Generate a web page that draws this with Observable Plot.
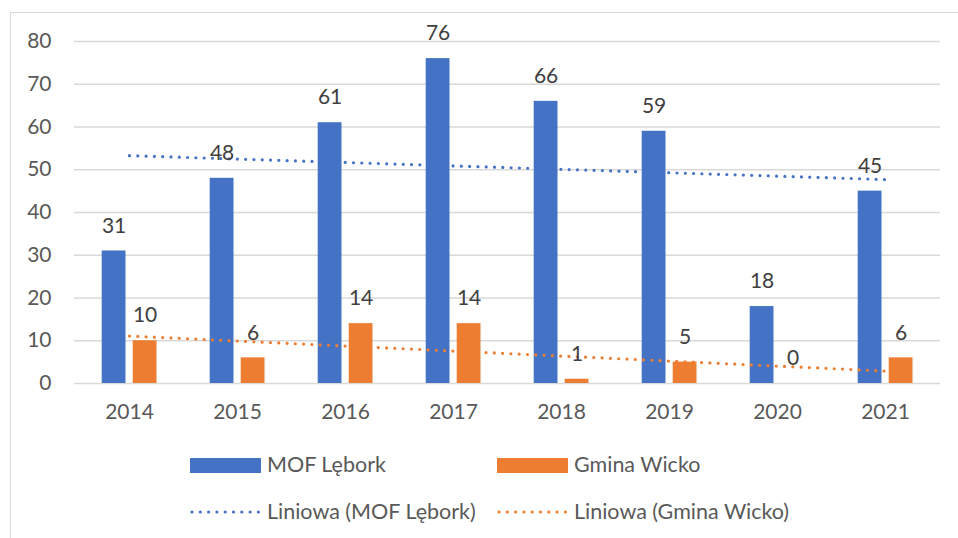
<!DOCTYPE html>
<html>
<head>
<meta charset="utf-8">
<script src="https://cdn.jsdelivr.net/npm/d3@7"></script>
<script src="https://cdn.jsdelivr.net/npm/@observablehq/plot@0.6"></script>
<style>
  html, body { margin: 0; padding: 0; background: #fff; }
  #wrap { position: relative; width: 958px; height: 538px; overflow: hidden; font-family: Lato, "Open Sans", sans-serif; }
  #frame { position: absolute; left: 10px; top: 12px; width: 1000px; height: 600px; border: 1px solid #d9d9d9; box-sizing: border-box; pointer-events: none; }
  #chart { position: absolute; left: 0; top: 0; }
  .leg { position: absolute; font-size: 21.5px; color: #595959; line-height: 1; white-space: nowrap; }
  .sw { position: absolute; }
</style>
</head>
<body>
<div id="wrap">
  <div id="frame"></div>
  <div id="chart"></div>
  <div id="legend"></div>
</div>
<script>
const years = ["2014", "2015", "2016", "2017", "2018", "2019", "2020", "2021"];
const mofLebork = [31, 48, 61, 76, 66, 59, 18, 45];
const gminaWicko = [10, 6, 14, 14, 1, 5, 0, 6];
const seriesNames = ["MOF Lębork", "Gmina Wicko", "Liniowa (MOF Lębork)", "Liniowa (Gmina Wicko)"];
const trendYears = ["2014", "2021"];
const trendMOF = [53.3, 47.7];
const trendWicko = [11.1, 2.9];
const yTicks = [0, 10, 20, 30, 40, 50, 60, 70, 80];

const blue = "#4472C4", orange = "#ED7D31";

const mofData = years.map((y, i) => ({year: y, value: mofLebork[i]}));
const wickoData = years.map((y, i) => ({year: y, value: gminaWicko[i]}));
const tMOF = trendYears.map((y, i) => ({year: y, value: trendMOF[i]}));
const tWicko = trendYears.map((y, i) => ({year: y, value: trendWicko[i]}));

const chart = Plot.plot({
  width: 958,
  height: 440,
  marginLeft: 74,
  marginRight: 18,
  marginTop: 41,
  marginBottom: 57,
  style: {fontFamily: "Lato, 'Open Sans', sans-serif", fontSize: "21px", color: "#595959", background: "transparent"},
  x: {type: "band", domain: years, padding: 0, label: null},
  y: {domain: [0, 80], label: null},
  marks: [
    Plot.ruleY(yTicks, {stroke: "#d9d9d9", strokeWidth: 1.3}),
    Plot.axisY(yTicks, {tickSize: 0, tickPadding: 23, fontSize: 21, fill: "#595959", label: null}),
    Plot.axisX({tickSize: 0, tickPadding: 21, fontSize: 21, fill: "#595959", label: null}),
    Plot.barY(mofData, {x: "year", y: "value", fill: blue, insetLeft: 26.7, insetRight: 57.5}),
    Plot.barY(wickoData, {x: "year", y: "value", fill: orange, insetLeft: 57.7, insetRight: 26.5}),
    Plot.line(tMOF, {x: "year", y: "value", stroke: blue, strokeWidth: 3.2, strokeDasharray: "0 8.3", strokeLinecap: "round"}),
    Plot.line(tWicko, {x: "year", y: "value", stroke: orange, strokeWidth: 3.2, strokeDasharray: "0 8.3", strokeLinecap: "round"}),
    Plot.text(mofData, {x: "year", y: "value", text: d => String(d.value), dx: -15.4, dy: -25, fontSize: 21, fill: "#404040"}),
    Plot.text(wickoData, {x: "year", y: "value", text: d => String(d.value), dx: 15.6, dy: -25, fontSize: 21, fill: "#404040"})
  ]
});
document.getElementById("chart").appendChild(chart);

// Legend (HTML below the SVG)
const legend = document.getElementById("legend");
const items = [
  {name: seriesNames[0], color: blue, kind: "rect", x: 190, y: 465},
  {name: seriesNames[1], color: orange, kind: "rect", x: 497, y: 465},
  {name: seriesNames[2], color: blue, kind: "dots", x: 190, y: 512},
  {name: seriesNames[3], color: orange, kind: "dots", x: 497, y: 512}
];
for (const it of items) {
  const ns = "http://www.w3.org/2000/svg";
  const sw = document.createElementNS(ns, "svg");
  sw.setAttribute("width", 72);
  sw.setAttribute("height", 18);
  sw.setAttribute("class", "sw");
  sw.style.left = it.x + "px";
  sw.style.top = (it.y - 9) + "px";
  if (it.kind === "rect") {
    const r = document.createElementNS(ns, "rect");
    r.setAttribute("x", 0); r.setAttribute("y", 2); r.setAttribute("width", 71); r.setAttribute("height", 15);
    r.setAttribute("fill", it.color);
    sw.appendChild(r);
  } else {
    const l = document.createElementNS(ns, "line");
    l.setAttribute("x1", 2); l.setAttribute("x2", 70); l.setAttribute("y1", 9); l.setAttribute("y2", 9);
    l.setAttribute("stroke", it.color); l.setAttribute("stroke-width", 3.2);
    l.setAttribute("stroke-dasharray", "0 8.3"); l.setAttribute("stroke-linecap", "round");
    sw.appendChild(l);
  }
  legend.appendChild(sw);
  const t = document.createElement("div");
  t.className = "leg";
  t.textContent = it.name;
  t.style.left = (it.x + 77) + "px";
  t.style.top = (it.y - 11) + "px";
  legend.appendChild(t);
}
</script>
</body>
</html>
